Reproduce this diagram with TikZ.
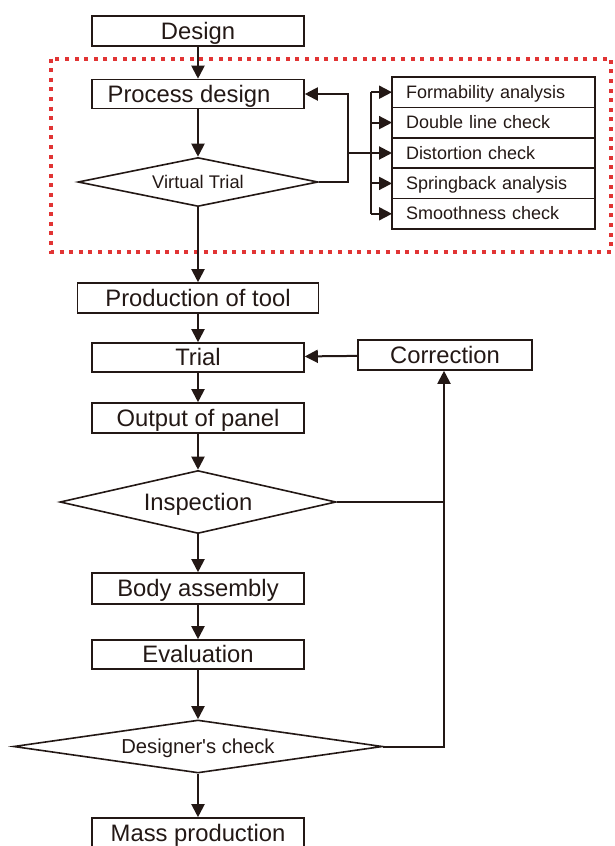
\documentclass[tikz,border=0pt]{standalone}
\usepackage{fontspec}
\setmainfont{Liberation Sans}
\usepackage{tikz}
\usetikzlibrary{shapes.geometric,arrows.meta,positioning}
\definecolor{dashred}{RGB}{225,52,52}
\definecolor{ink}{RGB}{35,24,21}

\begin{document}
\begin{tikzpicture}[x=1pt,y=-1pt,ink,
        stepbox/.style = { draw, line width=1.6pt, minimum width=212pt, minimum height=30pt, inner sep=0pt, text height=20pt, text depth=4pt, font=\fontsize{23.8}{24}\selectfont},
        checkbox/.style = { draw, line width=1.6pt, outer sep=0pt, text width=175pt, align=left, inner xsep=14pt, inner ysep=0pt, minimum height=30.4pt, text height=15pt, text depth=3pt, font=\fontsize{18}{18}\selectfont},
        decide/.style = { draw, diamond, line width=1.6pt, inner sep=0pt},
        conn/.style = { line width=2pt, -{Triangle[length=13pt,width=13pt]}}]

        \useasboundingbox (0,0) rectangle (614,846);

        % Virtual trial frame
        \draw[dashred, line width=4pt, dash pattern=on 4pt off 5.6pt] (51,58.5) rectangle (611,251.5);

        % Main flow
        \node[stepbox] (design) at (198,31) {Design};
        \node[stepbox, minimum height=29pt] (pd) at (198,94) {\hspace*{-18pt}Process design};
        \node[decide, aspect=4.9, minimum width=240pt, minimum height=49pt, text height=16pt, text depth=3pt, font=\fontsize{18.3}{18}\selectfont] (vt) at (198,182) {Virtual Trial};
        \node[stepbox, minimum width=241pt] (tool) at (198,298) {Production of tool};
        \node[stepbox, minimum height=29pt] (trial) at (198,357.5) {Trial};
        \node[stepbox] (panel) at (198,418) {Output of panel};
        \node[decide, aspect=4.38, minimum width=276pt, minimum height=63pt, text height=20pt, text depth=4pt, font=\fontsize{23.8}{24}\selectfont] (insp) at (198,502) {Inspection};
        \node[stepbox, minimum height=31pt] (body) at (198,588.5) {Body assembly};
        \node[stepbox, minimum height=29pt] (eval) at (198,654.5) {Evaluation};
        \node[decide, aspect=6.96, minimum width=369pt, minimum height=53pt, text height=17.5pt, text depth=3.5pt, font=\fontsize{20.2}{20}\selectfont] (dcheck) at (198,746.5) {Designer\textquotesingle s check};
        \node[stepbox] (mass) at (198,833) {Mass production};

        % Correction
        \node[stepbox, minimum width=174pt] (corr) at (445,355) {Correction};

        % Checks of the virtual trial
        \node[checkbox, anchor=north west] (form) at (392,77) {Formability analysis};
        \node[checkbox, below=0pt of form] (dbl) {Double line check};
        \node[checkbox, below=0pt of dbl] (dist) {Distortion check};
        \node[checkbox, below=0pt of dist] (spring) {Springback analysis};
        \node[checkbox, below=0pt of spring] (smooth) {Smoothness check};

        % Arrows down
        \draw[conn] (design) -- (pd);
        \draw[conn] (pd) -- (vt);
        \draw[conn] (vt) -- (tool);
        \draw[conn] (tool) -- (trial);
        \draw[conn] (trial) -- (panel);
        \draw[conn] (panel) -- (insp);
        \draw[conn] (insp) -- (body);
        \draw[conn] (body) -- (eval);
        \draw[conn] (eval) -- (dcheck);
        \draw[conn] (dcheck) -- (mass);

        % Loop back to process design
        \coordinate (ret) at (348,94);
        \coordinate (brk) at (371,0);
        \draw[conn] (vt.east) -| (ret) -- (pd.east);
        \draw[line width=1.6pt] (ret |- dist) -- (brk |- dist);
        \draw[line width=2pt] (brk |- form) -- (brk |- smooth);
        \foreach \c in {form,dbl,dist,spring,smooth}
            \draw[conn] (brk |- \c) -- (\c.west);

        % Loop back to trial
        \coordinate (up) at (444,0);
        \draw[line width=2pt] (insp.east) -- (up |- insp);
        \draw[conn] (dcheck.east) -- (up |- dcheck) -- (up |- corr.south);
        \draw[conn] (corr) -- (trial);

    \end{tikzpicture}
\end{document}
